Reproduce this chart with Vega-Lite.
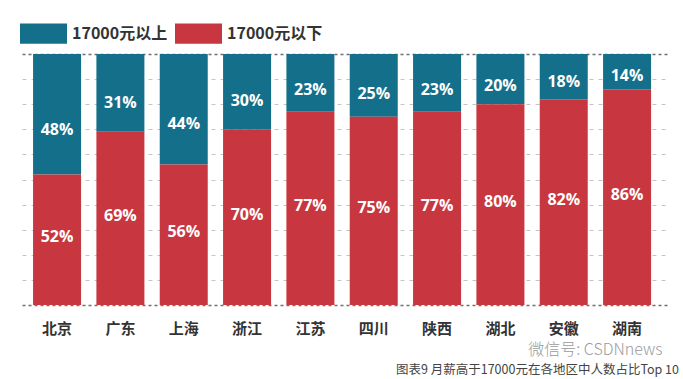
{
  "$schema": "https://vega.github.io/schema/vega-lite/v6.json",
  "width": 645,
  "height": 251,
  "autosize": {"type": "none"},
  "padding": {"left": 22, "top": 54, "right": 16, "bottom": 74},
  "background": "#ffffff",
  "config": {"view": {"stroke": null}, "font": "Noto Sans CJK SC"},
  "title": {
    "text": "图表9 月薪高于17000元在各地区中人数占比Top 10",
    "orient": "bottom",
    "anchor": "end",
    "fontSize": 12.5,
    "fontWeight": "normal",
    "color": "#444444",
    "font": "Noto Sans CJK SC",
    "offset": 7,
    "dx": 12
  },
  "data": {
    "values": [
      {"city": "北京", "grp": "17000元以上", "v": 48},
      {"city": "北京", "grp": "17000元以下", "v": 52},
      {"city": "广东", "grp": "17000元以上", "v": 31},
      {"city": "广东", "grp": "17000元以下", "v": 69},
      {"city": "上海", "grp": "17000元以上", "v": 44},
      {"city": "上海", "grp": "17000元以下", "v": 56},
      {"city": "浙江", "grp": "17000元以上", "v": 30},
      {"city": "浙江", "grp": "17000元以下", "v": 70},
      {"city": "江苏", "grp": "17000元以上", "v": 23},
      {"city": "江苏", "grp": "17000元以下", "v": 77},
      {"city": "四川", "grp": "17000元以上", "v": 25},
      {"city": "四川", "grp": "17000元以下", "v": 75},
      {"city": "陕西", "grp": "17000元以上", "v": 23},
      {"city": "陕西", "grp": "17000元以下", "v": 77},
      {"city": "湖北", "grp": "17000元以上", "v": 20},
      {"city": "湖北", "grp": "17000元以下", "v": 80},
      {"city": "安徽", "grp": "17000元以上", "v": 18},
      {"city": "安徽", "grp": "17000元以下", "v": 82},
      {"city": "湖南", "grp": "17000元以上", "v": 14},
      {"city": "湖南", "grp": "17000元以下", "v": 86}
    ]
  },
  "transform": [
    {"calculate": "datum.grp == '17000元以下' ? 0 : 1", "as": "ord"},
    {"calculate": "datum.grp == '17000元以上' ? 100 - 0.63 * datum.v : 0.5 * datum.v + 1", "as": "ly"},
    {"calculate": "datum.v + '%'", "as": "lbl"}
  ],
  "encoding": {
    "x": {
      "field": "city",
      "type": "nominal",
      "sort": null,
      "scale": {"paddingInner": 0.242, "paddingOuter": 0.213, "align": 0.41},
      "axis": {
        "title": "微信号: CSDNnews",
        "titleFont": "Noto Sans CJK SC",
        "titleFontSize": 16,
        "titleFontWeight": 300,
        "titleColor": "#9a9a9a",
        "titleAlign": "right",
        "titleBaseline": "middle",
        "titleX": 640,
        "titleY": 44,
        "labelAngle": 0,
        "labelFont": "Noto Sans CJK SC",
        "labelFontSize": 15,
        "labelFontWeight": "bold",
        "labelColor": "#333333",
        "labelPadding": 16,
        "ticks": false,
        "tickSize": 0,
        "domain": false,
        "grid": false
      }
    }
  },
  "layer": [
    {
      "mark": {"type": "bar"},
      "encoding": {
        "y": {
          "field": "v",
          "type": "quantitative",
          "stack": "zero",
          "scale": {"domain": [0, 100], "nice": false},
          "axis": {
            "title": null,
            "labels": false,
            "ticks": false,
            "domain": false,
            "values": [0, 10, 20, 30, 40, 50, 60, 70, 80, 90, 100],
            "grid": true,
            "gridColor": {"condition": {"test": "datum.value == 0 || datum.value == 100", "value": "#707070"}, "value": "#c4c4c4"},
            "gridDash": {"condition": {"test": "datum.value == 0 || datum.value == 100", "value": [3, 3]}, "value": [4, 5]},
            "gridWidth": {"condition": {"test": "datum.value == 0 || datum.value == 100", "value": 1.6}, "value": 1}
          }
        },
        "order": {"field": "ord", "type": "quantitative"},
        "color": {
          "field": "grp",
          "type": "nominal",
          "scale": {"domain": ["17000元以上", "17000元以下"], "range": ["#14708A", "#C8373F"]},
          "legend": {
            "title": null,
            "orient": "none",
            "legendX": -2,
            "legendY": -44,
            "direction": "horizontal",
            "symbolType": "M-1,-0.43H1V0.43H-1Z",
            "symbolSize": 2209,
            "symbolStrokeWidth": 0,
            "symbolOpacity": 1,
            "labelFont": "Noto Sans CJK SC",
            "labelFontSize": 16,
            "labelFontWeight": "bold",
            "labelColor": "#333333",
            "labelOffset": 5,
            "columnPadding": 7,
            "padding": 0
          }
        }
      }
    },
    {
      "mark": {"type": "text", "color": "#ffffff", "font": "Open Sans", "fontSize": 16, "fontWeight": "bold", "baseline": "middle"},
      "encoding": {
        "y": {"field": "ly", "type": "quantitative", "stack": null, "axis": null},
        "text": {"field": "lbl", "type": "nominal"},
        "detail": {"field": "grp"}
      }
    }
  ],
  "resolve": {"axis": {"y": "independent"}}
}
